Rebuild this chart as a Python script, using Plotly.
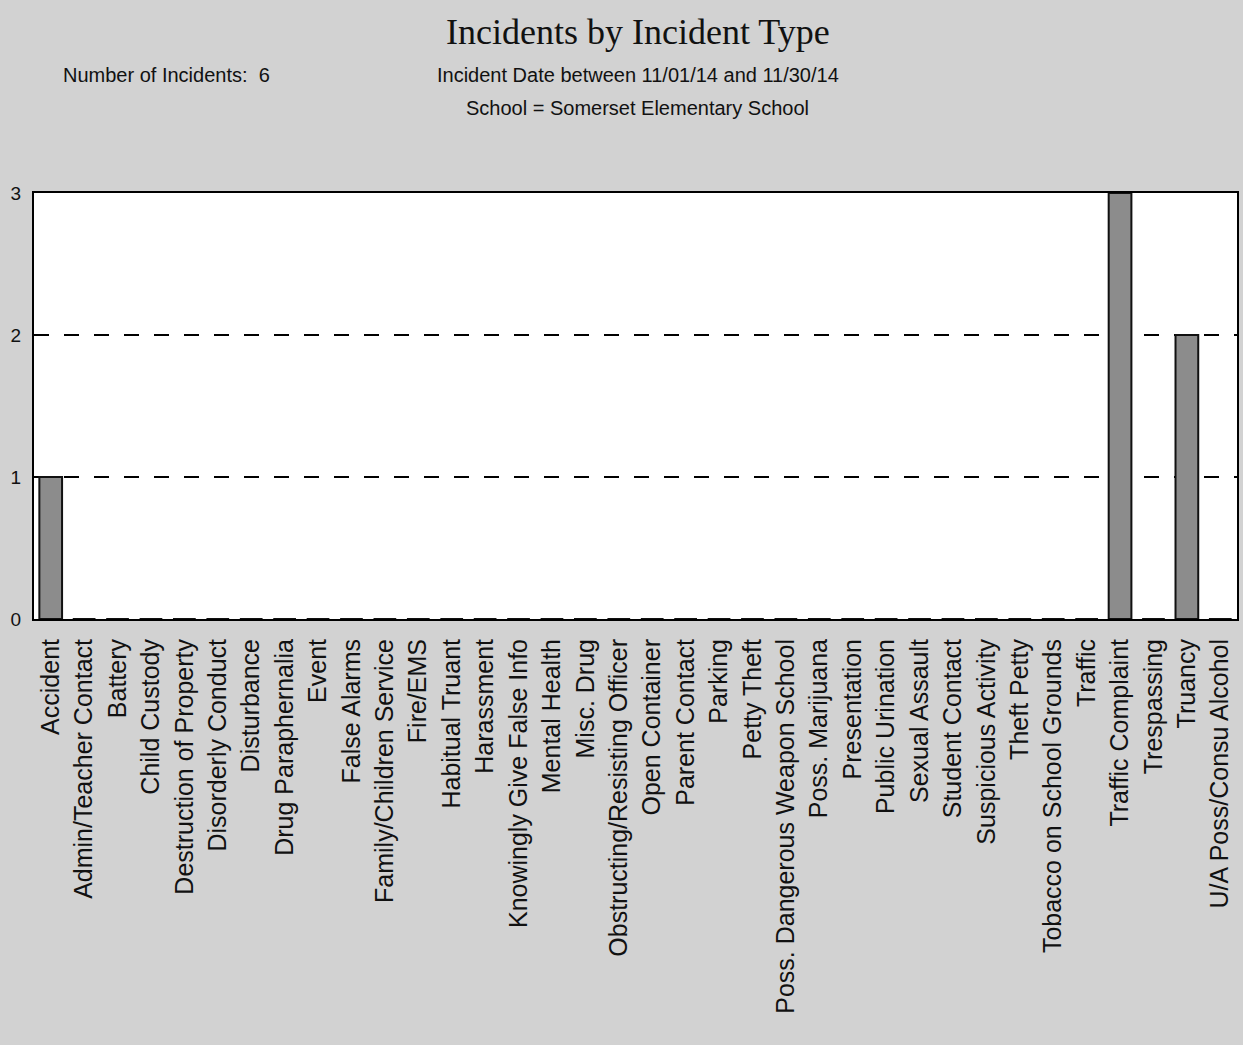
import plotly.graph_objects as go

categories = [
    "Accident", "Admin/Teacher Contact", "Battery", "Child Custody",
    "Destruction of Property", "Disorderly Conduct", "Disturbance",
    "Drug Paraphernalia", "Event", "False Alarms", "Family/Children Service",
    "Fire/EMS", "Habitual Truant", "Harassment", "Knowingly Give False Info",
    "Mental Health", "Misc. Drug", "Obstructing/Resisting Officer",
    "Open Container", "Parent Contact", "Parking", "Petty Theft",
    "Poss. Dangerous Weapon School", "Poss. Marijuana", "Presentation",
    "Public Urination", "Sexual Assault", "Student Contact",
    "Suspicious Activity", "Theft Petty", "Tobacco on School Grounds",
    "Traffic", "Traffic Complaint", "Trespassing", "Truancy",
    "U/A Poss/Consu Alcohol",
]
counts = [1, 0, 0, 0, 0, 0, 0, 0, 0, 0, 0, 0, 0, 0, 0, 0, 0, 0,
          0, 0, 0, 0, 0, 0, 0, 0, 0, 0, 0, 0, 0, 0, 3, 0, 2, 0]
y_ticks = [0, 1, 2, 3]

title = "Incidents by Incident Type"
subtitle1 = "Incident Date between 11/01/14 and 11/30/14"
subtitle2 = "School = Somerset Elementary School"
count_label = "Number of Incidents:  6"

BG = "#d2d2d2"
SANS = "Liberation Sans, Arial, sans-serif"

fig = go.Figure(go.Bar(
    x=categories, y=counts,
    marker=dict(color="#8c8c8c", line=dict(color="#111111", width=2)),
    width=0.68,
))

fig.update_layout(
    width=1243, height=1045,
    margin=dict(l=34, r=4, t=193, b=426),
    paper_bgcolor=BG, plot_bgcolor="white",
    showlegend=False,
    font=dict(family=SANS, color="#111111"),
)
fig.update_xaxes(
    type="category", tickangle=-90, tickfont=dict(size=25, family=SANS),
    showgrid=False, showline=True, linecolor="black", linewidth=2, mirror=True,
    ticks="outside", ticklen=8, tickcolor="rgba(0,0,0,0)",
)
fig.update_yaxes(
    range=[0, 3], tickvals=y_ticks, tickfont=dict(size=19, family=SANS),
    showgrid=True, gridcolor="black", griddash="15px,15px", gridwidth=2,
    zeroline=False, showline=True, linecolor="black", linewidth=2, mirror=True,
    ticks="outside", ticklen=7, tickcolor="rgba(0,0,0,0)",
)

fig.add_annotation(text=title, xref="paper", yref="paper", x=0.502, y=1.0,
                   xanchor="center", yshift=161, showarrow=False, yanchor="middle",
                   font=dict(family="Liberation Serif, Times New Roman, serif", size=36, color="#111"))
fig.add_annotation(text=subtitle1, xref="paper", yref="paper", x=0.502, y=1.0,
                   xanchor="center", yshift=118, showarrow=False, yanchor="middle",
                   font=dict(family=SANS, size=20, color="#111"))
fig.add_annotation(text=subtitle2, xref="paper", yref="paper", x=0.502, y=1.0,
                   xanchor="center", yshift=85, showarrow=False, yanchor="middle",
                   font=dict(family=SANS, size=20, color="#111"))
fig.add_annotation(text=count_label, xref="paper", yref="paper", x=0.11, y=1.0,
                   xanchor="center", yshift=118, showarrow=False, yanchor="middle",
                   font=dict(family=SANS, size=20, color="#111"))

fig.write_html(
    "out.html",
    config={"displayModeBar": False},
    post_script="document.body.style.margin='0';document.body.style.background='%s';" % BG,
)
